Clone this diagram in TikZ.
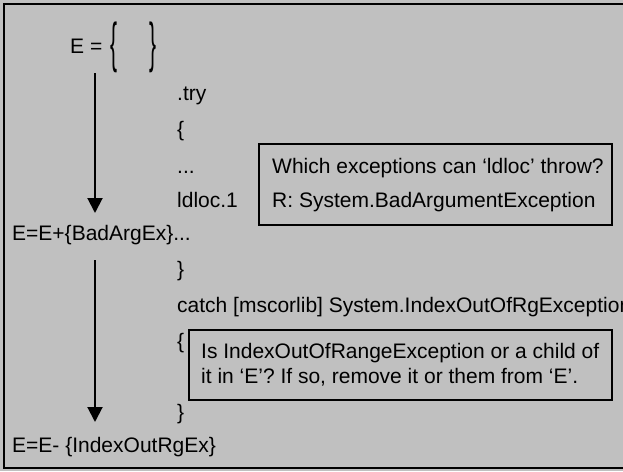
\documentclass[tikz,border=0pt]{standalone}
\usepackage{fontspec}
\setmainfont{Liberation Sans}
\usetikzlibrary{arrows.meta}
\definecolor{bg}{HTML}{C0C0C0}
\tikzset{
  txt/.style={anchor=base west, inner sep=0pt, font=\fontsize{21}{25}\selectfont},
  note/.style={draw=black, line width=1.5pt},
  flow/.style={line width=2pt, -{Triangle[width=15pt,length=15pt]}},
}
\begin{document}
\begin{tikzpicture}[x=1pt,y=-1pt]
\useasboundingbox (0,0) rectangle (623,471);
\fill[bg] (0,0) rectangle (623,471);
\draw[line width=2pt] (4,4) rectangle (640,468);
% E = { }
\node[txt] (eq) at (70,53) {E =};
\node[txt] (lb) at (110,53) {\raisebox{-0.75ex}{\scalebox{1}[2.6]{\{}}};
\node[txt] (rb) at (149,53) {\raisebox{-0.75ex}{\scalebox{1}[2.6]{\}}}};
% code lines
\node[txt] (try) at (177,100) {.try};
\node[txt] (ob1) at (177,136) {\{};
\node[txt] (dots) at (177,173) {...};
\node[txt] (ldloc) at (177,207) {ldloc.1};
\node[txt] (eadd) at (12,240) {E=E+\{BadArgEx\}...};
\node[txt] (cb1) at (177,276) {\}};
\node[txt] (catch) at (177,312) {catch [mscorlib] System.IndexOutOfRgException};
\node[txt] (ob2) at (177,348) {\{};
\node[txt] (cb2) at (177,419) {\}};
\node[txt] (esub) at (12,452) {E=E- \{IndexOutRgEx\}};
% note boxes
\draw[note, fill=bg] (259,144) rectangle (612,225);
\node[txt] (q1) at (272,173) {Which exceptions can `ldloc' throw?};
\node[txt] (r1) at (272,207) {R: System.BadArgumentException};
\draw[note, fill=bg] (189,330) rectangle (612,400);
\node[txt] (q2a) at (201,358) {Is IndexOutOfRangeException or a child of};
\node[txt] (q2b) at (201,383) {it in `E'? If so, remove it or them from `E'.};
% arrows
\coordinate (a1s) at (95,73);
\coordinate (a1e) at (95,213);
\coordinate (a2s) at (95,260);
\coordinate (a2e) at (95,422);
\draw[flow] (a1s) -- (a1e);
\draw[flow] (a2s) -- (a2e);
\end{tikzpicture}
\end{document}
